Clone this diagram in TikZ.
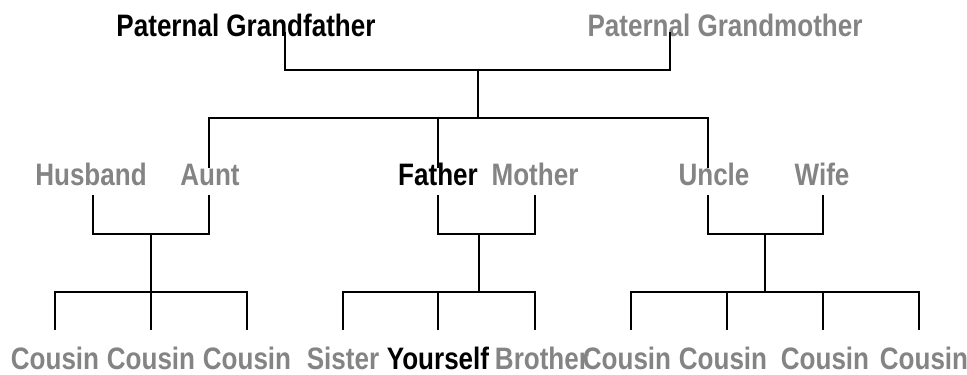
\documentclass[tikz,border=0pt]{standalone}
\usepackage{fontspec}
\setmainfont{Liberation Sans}[FakeStretch=0.84]
\definecolor{kin}{HTML}{848484}

\begin{document}
\begin{tikzpicture}[x=1pt,y=-1pt,
  person/.style={anchor=base,inner sep=0pt,font=\fontsize{31}{34}\selectfont\bfseries},
  other/.style={person,text=kin},
  link/.style={line width=1.6pt}]
  \useasboundingbox (0,0) rectangle (967,375);
  % grandparents
  \node [person] (gf) at (246,36) {Paternal Grandfather};
  \node [other] (gm) at (725,36) {Paternal Grandmother};
  % parents row
  \node [other] (husband) at (91,185) {Husband};
  \node [other] (aunt) at (210,185) {Aunt};
  \node [person] (father) at (438,185) {Father};
  \node [other] (mother) at (535,185) {Mother};
  \node [other] (uncle) at (714,185) {Uncle};
  \node [other] (wife) at (822,185) {Wife};
  % children row
  \foreach \n/\x in {ka/55,kb/151,kc/247}
    \node [other] (\n) at (\x,369) {Cousin};
  \node [other] (sister) at (343,369) {Sister};
  \node [person] (self) at (438,369) {Yourself};
  \node [other] (brother) at (542,369) {Brother};
  \foreach \n/\x in {ra/627,rb/723,rc/825,rd/924}
    \node [other] (\n) at (\x,369) {Cousin};
  % junctions
  \coordinate (gp) at (478,70);
  \coordinate (sib) at (478,118);
  \coordinate (c1) at (151,234);
  \coordinate (c2) at (479,234);
  \coordinate (c3) at (765,234);
  % grandparents to their children
  \draw [link] ([xshift=39pt,yshift=4pt]gf.base) |- (gp) -| ([xshift=-55pt,yshift=4pt]gm.base);
  \draw [link] (gp) -- (sib);
  \draw [link] ([xshift=-1pt,yshift=17pt]aunt.base) |- (sib) -| ([xshift=-6pt,yshift=17pt]uncle.base);
  \draw [link] ([yshift=17pt]father.base) -- (father.base |- sib);
  % couples
  \draw [link] ([xshift=2pt,yshift=-10pt]husband.base) |- (c1) -| ([xshift=-1pt,yshift=-10pt]aunt.base);
  \draw [link] ([yshift=-10pt]father.base) |- (c2) -| ([yshift=-10pt]mother.base);
  \draw [link] ([xshift=-6pt,yshift=-10pt]uncle.base) |- (c3) -| ([xshift=1pt,yshift=-10pt]wife.base);
  % children
  \draw [link] (c1) -- ++(0,58) coordinate (d1);
  \draw [link] (c2) -- ++(0,58) coordinate (d2);
  \draw [link] (c3) -- ++(0,58) coordinate (d3);
  \draw [link] ([yshift=39pt]ka.base) |- (d1) -| ([yshift=39pt]kc.base);
  \draw [link] ([yshift=39pt]kb.base) -- (kb.base |- d1);
  \draw [link] ([yshift=39pt]sister.base) |- (d2) -| ([xshift=-7pt,yshift=39pt]brother.base);
  \draw [link] ([yshift=39pt]self.base) -- (self.base |- d2);
  \draw [link] ([xshift=4pt,yshift=39pt]ra.base) |- (d3) -| ([xshift=-5pt,yshift=39pt]rd.base);
  \draw [link] ([xshift=4pt,yshift=39pt]rb.base) -- ++(0,-38);
  \draw [link] ([xshift=-2pt,yshift=39pt]rc.base) -- ++(0,-38);
\end{tikzpicture}
\end{document}
